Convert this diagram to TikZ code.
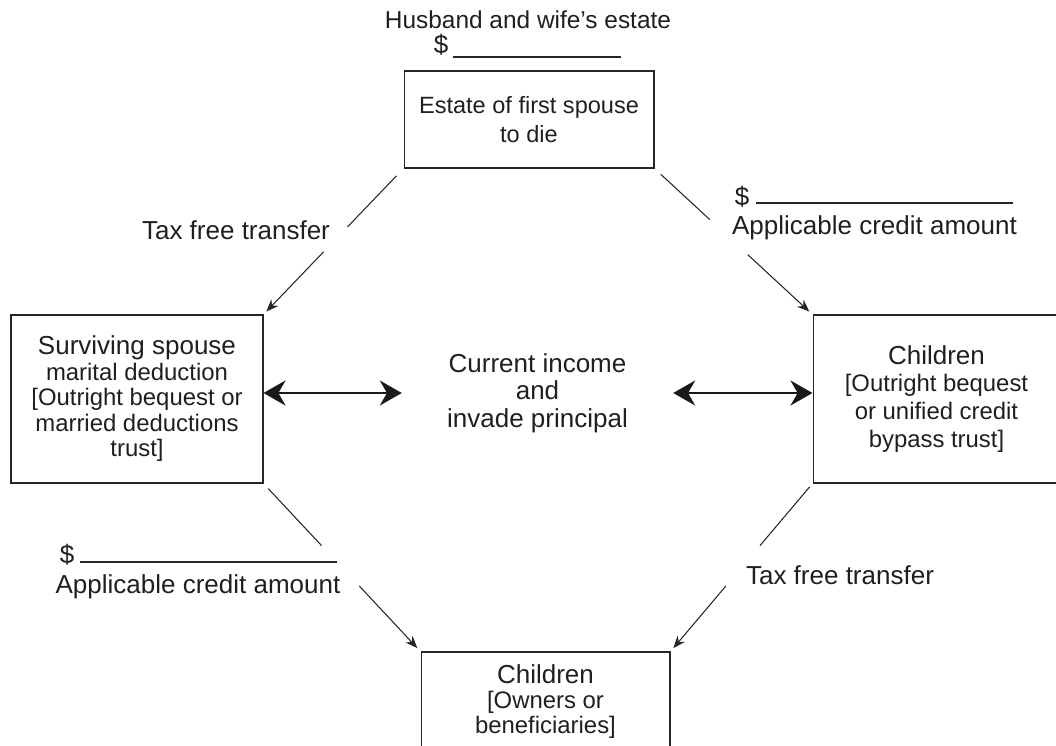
\documentclass[tikz,border=0pt]{standalone}
\usepackage{fontspec}
\setmainfont{Liberation Sans}
\usetikzlibrary{arrows.meta,calc}

\newcommand{\bigsz}{\fontsize{14.8}{17}\selectfont}
\newcommand{\midsz}{\fontsize{13.6}{14.5}\selectfont}

\begin{document}
\begin{tikzpicture}[x=0.02cm,y=-0.02cm,
    box/.style={draw=black!85,line width=0.6pt,align=center,inner sep=0pt,text=black!88},
    lbl/.style={inner sep=0pt,font=\bigsz,text=black!88},
    link/.style={line width=0.6pt,black!85},
    linkarrow/.style={line width=0.6pt,black!85,-{Stealth[length=7pt,width=5.5pt]}},
    twoway/.style={line width=1.2pt,black!90,{Stealth[length=0.44cm,width=0.5cm]}-{Stealth[length=0.44cm,width=0.5cm]}}]
    \useasboundingbox (0,0) rectangle (1056,746);
    \clip (0,0) rectangle (1056,746);

    % Draw boxes
    \node[box,minimum width=5cm,minimum height=1.94cm,font=\fontsize{13.4}{16.4}\selectfont] (estate) at (529,119.5) {Estate of first spouse\\to die};
    \node[box,minimum width=5.04cm,minimum height=3.36cm,font=\midsz] (spouse) at (137,399) {{\bigsz Surviving spouse}\\marital deduction\\{[}Outright bequest or\\married deductions\\trust]};
    \node[box,minimum width=4.94cm,minimum height=3.36cm,font=\fontsize{13.6}{15.9}\selectfont] (child) at (936.5,399) {{\bigsz Children}\\{[}Outright bequest\\or unified credit\\bypass trust]};
    \node[box,minimum width=4.98cm,minimum height=2cm,font=\fontsize{13.6}{14.2}\selectfont] (heirs) at (545.5,702) {{\bigsz Children}\\{[}Owners or\\beneficiaries]};

    % Add labels
    \node[lbl,font=\fontsize{13.9}{16}\selectfont] (total) at (528,20) {Husband and wife's estate};
    \node[lbl] (dol1) at (441,45) {\$};
    \draw[link] (453,57) -- (621,57);
    \node[lbl] (tf1) at (236,230) {Tax free transfer};
    \node[lbl] (dol2) at (742,197) {\$};
    \draw[link] (756,203) -- (1013,203);
    \node[lbl] (acr1) at (874.5,228) {Applicable credit amount};
    \node[lbl] (dol3) at (67,555) {\$};
    \draw[link] (80,562) -- (337,562);
    \node[lbl] (acr2) at (198,587) {Applicable credit amount};
    \node[lbl] (tf2) at (840,575) {Tax free transfer};
    \node[lbl,align=center,inner xsep=0.9cm,font=\fontsize{14.8}{15.6}\selectfont] (income) at (537.5,393) {Current income\\and\\invade principal};

    % Draw connectors
    \draw[link] ($(estate.south west)!.05!(spouse.north east)$) -- ($(estate.south west)!.40!(spouse.north east)$);
    \draw[linkarrow] ($(estate.south west)!.57!(spouse.north east)$) -- ($(estate.south west)!.98!(spouse.north east)$);
    \draw[link] ($(estate.south east)!.04!(child.north west)$) -- ($(estate.south east)!.35!(child.north west)$);
    \draw[linkarrow] ($(estate.south east)!.59!(child.north west)$) -- ($(estate.south east)!.98!(child.north west)$);
    \draw[link] ($(spouse.south east)!.03!(heirs.north west)$) -- ($(spouse.south east)!.37!(heirs.north west)$);
    \draw[linkarrow] ($(spouse.south east)!.61!(heirs.north west)$) -- ($(spouse.south east)!.98!(heirs.north west)$);
    \draw[link] ($(child.south west)!.02!(heirs.north east)$) -- ($(child.south west)!.37!(heirs.north east)$);
    \draw[linkarrow] ($(child.south west)!.61!(heirs.north east)$) -- ($(child.south west)!.98!(heirs.north east)$);

    \draw[twoway] (income.west -| spouse.east) -- (income.west);
    \draw[twoway] (income.east) -- (income.east -| child.west);
\end{tikzpicture}
\end{document}
